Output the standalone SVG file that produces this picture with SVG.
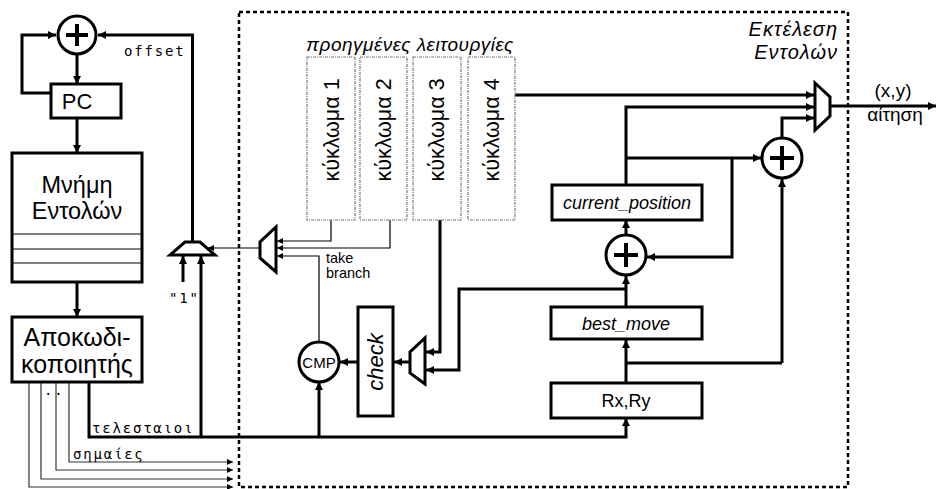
<svg xmlns="http://www.w3.org/2000/svg" width="936" height="489" viewBox="0 0 936 489">
<style>
.thk{fill:none;stroke:#000;stroke-width:3}
.thn{fill:none;stroke:#000;stroke-width:1.2}
.gry{fill:none;stroke:#333;stroke-width:1.2}
.box{fill:#fff;stroke:#000;stroke-width:3}
.cir{fill:#fff;stroke:#000;stroke-width:3}
.pls{stroke:#000;stroke-width:4}
.dot{fill:#fff;stroke:#777;stroke-width:1.2;stroke-dasharray:3,1,1,1}
.sans{font-family:"Liberation Sans",Arial,sans-serif;fill:#000}
.it{font-family:"Liberation Sans",Arial,sans-serif;font-style:italic;fill:#000}
.mono{font-family:"DejaVu Sans Mono","Liberation Mono",monospace;font-size:14px;letter-spacing:1.8px;fill:#000}
</style>
<defs>
<marker id="ak" viewBox="0 0 10 10" refX="10" refY="5" markerWidth="9" markerHeight="8" markerUnits="userSpaceOnUse" orient="auto"><path d="M0,0L10,5L0,10z" fill="#000"/></marker>
<marker id="an" viewBox="0 0 10 10" refX="10" refY="5" markerWidth="7" markerHeight="6" markerUnits="userSpaceOnUse" orient="auto"><path d="M0,0L10,5L0,10z" fill="#000"/></marker>
</defs>

<rect id="exec-border" x="239" y="12" width="609" height="475" fill="none" stroke="#000" stroke-width="2.5" stroke-dasharray="4,3"/>

<g id="connectors">
<path class="thk" d="M51,93H22V35H56" marker-end="url(#ak)"/>
<path class="thk" d="M192.5,242V35H98" marker-end="url(#ak)"/>
<path class="thk" d="M77,54V84" marker-end="url(#ak)"/>
<path class="thk" d="M77,118V153" marker-end="url(#ak)"/>
<path class="thk" d="M77,282V317" marker-end="url(#ak)"/>
<path class="gry" d="M29,382V487H233" marker-end="url(#an)"/>
<path class="gry" d="M41,382V479H233" marker-end="url(#an)"/>
<path class="gry" d="M56,382V470H233" marker-end="url(#an)"/>
<path class="gry" d="M69,382V462H233" marker-end="url(#an)"/>
<path class="thk" d="M89,382V437H626V418" marker-end="url(#ak)"/>
<path class="thk" d="M201,437V256" marker-end="url(#ak)"/>
<path class="thk" d="M183,282V256" marker-end="url(#ak)"/>
<path class="thk" d="M319,437V382" marker-end="url(#ak)"/>
<path class="thn" d="M260,248H208" marker-end="url(#an)"/>
<path class="thn" d="M331,220V241H277" marker-end="url(#an)"/>
<path class="thn" d="M390,220V248H277" marker-end="url(#an)"/>
<path class="thn" d="M319,342V256H277" marker-end="url(#an)"/>
<path class="thk" d="M440,220V352H426" marker-end="url(#ak)"/>
<path class="thk" d="M626,289H459V370H426" marker-end="url(#ak)"/>
<path class="thk" d="M410,362H394" marker-end="url(#ak)"/>
<path class="thk" d="M358,362H340" marker-end="url(#ak)"/>
<path class="thk" d="M515,95H814" marker-end="url(#ak)"/>
<path class="thk" d="M626,185V107H814" marker-end="url(#ak)"/>
<path class="thk" d="M626,158H761" marker-end="url(#ak)"/>
<path class="thk" d="M732,158V257H647" marker-end="url(#ak)"/>
<path class="thk" d="M782,138V118H814" marker-end="url(#ak)"/>
<path class="thk" d="M782,363V179" marker-end="url(#ak)"/>
<path class="thk" d="M626,363H782"/>
<path class="thk" d="M626,235V220" marker-end="url(#ak)"/>
<path class="thk" d="M626,307V276" marker-end="url(#ak)"/>
<path class="thk" d="M626,383V340" marker-end="url(#ak)"/>
<path class="thk" d="M830,106H936" marker-end="url(#ak)"/>
</g>

<g id="adder-pc">
<circle class="cir" cx="77" cy="35" r="19"/>
<path class="pls" d="M66,35H88M77,24V46"/>
</g>
<g id="pc">
<rect class="box" x="51" y="84" width="70" height="34"/>
<text class="sans" x="77" y="109" font-size="22" text-anchor="middle">PC</text>
</g>
<g id="instr-mem">
<rect class="box" x="12" y="153" width="130" height="129"/>
<path class="thn" d="M12,234H142M12,249H142M12,263H142"/>
<text class="sans" x="77" y="193" font-size="23.5" text-anchor="middle">Μνήμη</text>
<text class="sans" x="77" y="219" font-size="23.5" text-anchor="middle">Εντολών</text>
</g>
<g id="decoder">
<rect class="box" x="12" y="317" width="130" height="65"/>
<text class="sans" x="77" y="346" font-size="25" text-anchor="middle">Αποκωδι-</text>
<text class="sans" x="77" y="373" font-size="25" text-anchor="middle">κοποιητής</text>
</g>
<g id="labels-left">
<text class="mono" x="124" y="56">offset</text>
<text class="mono" x="92" y="433">τελεσταιοι</text>
<text class="mono" x="73" y="459">σημαίες</text>
<text class="mono" x="169" y="303">"1"</text>
<text class="mono" x="44" y="395" font-size="10" letter-spacing="1">..</text>
</g>
<g id="mux-pc">
<polygon class="box" points="185,242 200,242 215,255 170,255"/>
</g>
<g id="mux-branch">
<polygon class="box" points="276,227 276,272 260,258 260,242"/>
<text class="sans" x="326" y="263" font-size="14.5">take</text>
<text class="sans" x="326" y="278" font-size="14.5">branch</text>
</g>
<g id="title-prev">
<text class="it" x="410" y="51" font-size="19" letter-spacing="0.5" text-anchor="middle">προηγμένες λειτουργίες</text>
</g>
<g id="title-exec">
<text class="it" x="838" y="36" font-size="20" letter-spacing="1" text-anchor="end">Εκτέλεση</text>
<text class="it" x="838" y="59" font-size="20" letter-spacing="1" text-anchor="end">Εντολών</text>
</g>
<g id="circuit1">
<rect class="dot" x="307" y="57" width="48" height="163"/>
<text class="sans" font-size="21.5" text-anchor="middle" transform="translate(338.5,130) rotate(-90)">κύκλωμα 1</text>
</g>
<g id="circuit2">
<rect class="dot" x="360" y="57" width="47" height="163"/>
<text class="sans" font-size="21.5" text-anchor="middle" transform="translate(391,130) rotate(-90)">κύκλωμα 2</text>
</g>
<g id="circuit3">
<rect class="dot" x="413" y="57" width="48" height="163"/>
<text class="sans" font-size="21.5" text-anchor="middle" transform="translate(444,130) rotate(-90)">κύκλωμα 3</text>
</g>
<g id="circuit4">
<rect class="dot" x="468" y="57" width="47" height="163"/>
<text class="sans" font-size="21.5" text-anchor="middle" transform="translate(499,130) rotate(-90)">κύκλωμα 4</text>
</g>
<g id="mux-check">
<polygon class="box" points="425,338 425,384 410,373 410,352"/>
</g>
<g id="check">
<rect class="box" x="358" y="307" width="35" height="109"/>
<text class="it" font-size="22" text-anchor="middle" transform="translate(383,362) rotate(-90)">check</text>
</g>
<g id="cmp">
<circle class="cir" cx="319" cy="362" r="20"/>
<text class="sans" x="319" y="367.5" font-size="15" text-anchor="middle">CMP</text>
</g>
<g id="current-position">
<rect class="box" x="552" y="185" width="150" height="35"/>
<text class="it" x="627" y="209" font-size="18" text-anchor="middle">current_position</text>
</g>
<g id="adder-pos">
<circle class="cir" cx="626" cy="255" r="20"/>
<path class="pls" d="M614,255H638M626,243V267"/>
</g>
<g id="adder-out">
<circle class="cir" cx="782" cy="158" r="20"/>
<path class="pls" d="M770,158H794M782,146V170"/>
</g>
<g id="best-move">
<rect class="box" x="551" y="307" width="151" height="32"/>
<text class="it" x="626" y="330" font-size="18" text-anchor="middle">best_move</text>
</g>
<g id="rxry">
<rect class="box" x="551" y="383" width="151" height="35"/>
<text class="sans" x="626" y="407" font-size="18" text-anchor="middle">Rx,Ry</text>
</g>
<g id="mux-out">
<polygon class="box" points="815,83 830,97 830,116 815,130"/>
<text class="sans" x="893" y="97" font-size="19" text-anchor="middle">(x,y)</text>
<text class="sans" x="895" y="121" font-size="19" text-anchor="middle">αίτηση</text>
</g>
</svg>
